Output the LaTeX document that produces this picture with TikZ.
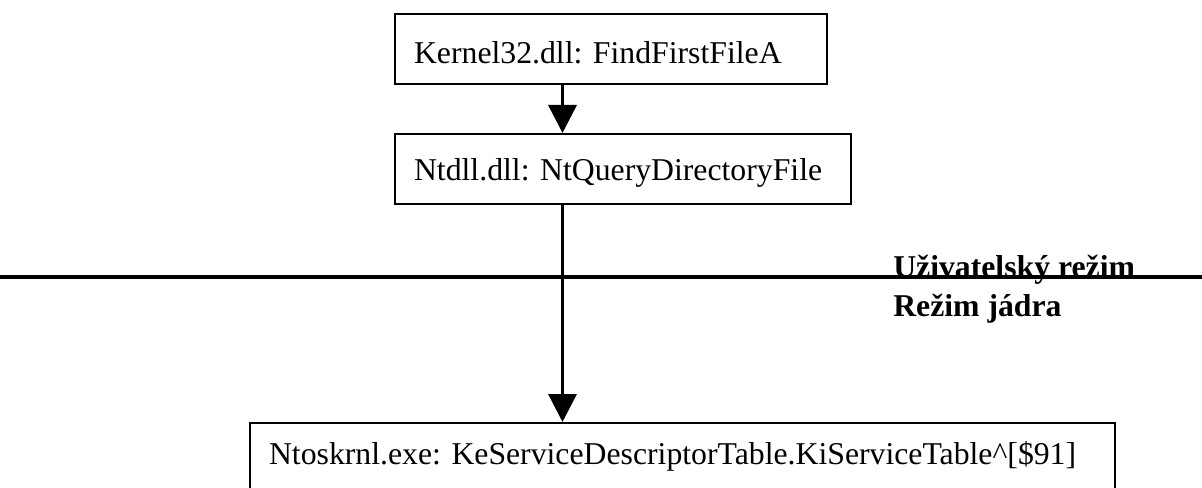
\documentclass[tikz,border=0pt]{standalone}
\usepackage{fontspec}
\setmainfont{Liberation Serif}
\usetikzlibrary{arrows.meta}
\frenchspacing
\begin{document}
\begin{tikzpicture}[x=0.75pt,y=-0.75pt,
  callbox/.style={draw, line width=1.6pt, anchor=north west,
    inner xsep=19*0.75pt, inner ysep=0pt, align=left,
    font=\fontsize{23.8pt}{28pt}\selectfont},
  modelabel/.style={anchor=base west, inner sep=0pt,
    font=\fontsize{23.8pt}{28pt}\selectfont\bfseries},
  flow/.style={line width=2.6pt, -{Triangle[width=21pt,length=21pt]}},
  divider/.style={line width=3pt}]
\useasboundingbox (0,0) rectangle (1202,488);

% call chain boxes
\node[callbox, text width=394*0.75pt, text height=49*0.75pt, text depth=21*0.75pt]
  (k32) at (394,13) {Kernel32.dll: FindFirstFileA};
\node[callbox, text width=418*0.75pt, text height=46*0.75pt, text depth=24*0.75pt]
  (ntdll) at (394,133) {Ntdll.dll: NtQueryDirectoryFile};
\node[callbox, text width=827*0.75pt, text height=41*0.75pt, text depth=29*0.75pt]
  (ntos) at (249,422) {Ntoskrnl.exe: KeServiceDescriptorTable.KiServiceTable\^{}[\$91]};

% mode labels
\node[modelabel] (umode) at (893,277) {Uživatelský režim};
\node[modelabel] (kmode) at (893,316) {Režim jádra};

% user/kernel boundary
\coordinate (divL) at (0,277);
\coordinate (divR) at (1202,277);
\draw[divider] (divL) -- (divR);

% call arrows
\coordinate (axis) at (562.5,0);
\draw[flow] (k32.south -| axis) -- (ntdll.north -| axis);
\draw[flow] (ntdll.south -| axis) -- (ntos.north -| axis);
\end{tikzpicture}
\end{document}
